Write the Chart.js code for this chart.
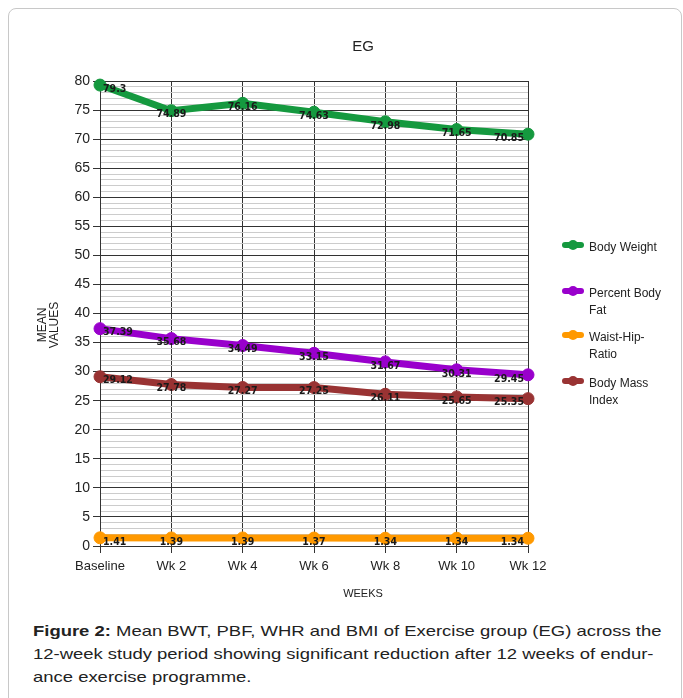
<!DOCTYPE html>
<html lang="en">
<head>
    <meta charset="UTF-8">
    <title>EG - Mean values over 12 weeks</title>
    <script src="https://cdn.jsdelivr.net/npm/chart.js"></script>
    <style>
        body {
            margin: 0;
            background-color: #fff;
            font-family: "Liberation Sans", Arial, sans-serif;
            overflow: hidden;
        }
        .frame {
            position: absolute;
            left: 8px;
            top: 8px;
            width: 672px;
            height: 720px;
            border: 1px solid #c8c8c8;
            border-radius: 8px;
        }
        #egChart {
            position: absolute;
            left: 0;
            top: 0;
        }
        .caption {
            position: absolute;
            left: 33px;
            top: 619px;
            margin: 0;
            font-size: 15px;
            line-height: 23px;
            color: #222;
            white-space: nowrap;
            transform: scaleX(1.23);
            transform-origin: left top;
        }
    </style>
</head>
<body>
    <div class="frame"></div>
    <canvas id="egChart" width="683" height="610"></canvas>
    <p class="caption"><b>Figure 2:</b> Mean BWT, PBF, WHR and BMI of Exercise group (EG) across the<br>12-week study period showing significant reduction after 12 weeks of endur-<br>ance exercise programme.</p>

    <script>
        // Data
        const weeks = ['Baseline', 'Wk 2', 'Wk 4', 'Wk 6', 'Wk 8', 'Wk 10', 'Wk 12'];
        const bodyWeight = [79.3, 74.89, 76.16, 74.63, 72.98, 71.65, 70.85];
        const percentBodyFat = [37.39, 35.68, 34.49, 33.15, 31.67, 30.31, 29.45];
        const waistHipRatio = [1.41, 1.39, 1.39, 1.37, 1.34, 1.34, 1.34];
        const bodyMassIndex = [29.12, 27.78, 27.27, 27.25, 26.11, 25.65, 25.35];
        const seriesNames = ['Body Weight', 'Percent Body Fat', 'Waist-Hip-Ratio', 'Body Mass Index'];
        const legendLines = [['Body Weight'], ['Percent Body', 'Fat'], ['Waist-Hip-', 'Ratio'], ['Body Mass', 'Index']];
        const yMin = 0, yMax = 80, yMajorStep = 5;

        const colors = ['#15993f', '#9900cc', '#ff9900', '#993333'];
        const seriesValues = [bodyWeight, percentBodyFat, waistHipRatio, bodyMassIndex];

        const datasets = seriesValues.map((vals, i) => ({
            label: seriesNames[i],
            data: vals,
            borderColor: colors[i],
            backgroundColor: colors[i],
            borderWidth: 7,
            pointRadius: 6,
            pointBorderWidth: 1,
            pointHoverRadius: 6,
            tension: 0,
            clip: false
        }));

        // Value labels next to each point
        const valueLabelPlugin = {
            id: 'valueLabelPlugin',
            afterDatasetsDraw: (chart) => {
                const ctx = chart.ctx;
                ctx.save();
                ctx.font = 'bold 10.5px "DejaVu Sans Condensed", sans-serif';
                ctx.fillStyle = '#1a1a1a';
                ctx.textBaseline = 'middle';
                chart.data.datasets.forEach((ds, di) => {
                    const meta = chart.getDatasetMeta(di);
                    meta.data.forEach((pt, i) => {
                        let x = pt.x;
                        if (i === 0) { ctx.textAlign = 'left'; x += 3; }
                        else if (i === meta.data.length - 1) { ctx.textAlign = 'right'; x -= 4; }
                        else { ctx.textAlign = 'center'; }
                        ctx.fillText(String(ds.data[i]), x, pt.y + 4);
                    });
                });
                ctx.restore();
            }
        };

        // Title, x-axis caption, y-axis caption and the legend column on the right
        const decorPlugin = {
            id: 'decorPlugin',
            afterDraw: (chart) => {
                const ctx = chart.ctx;
                ctx.save();
                ctx.fillStyle = '#222';
                ctx.textAlign = 'center';
                ctx.textBaseline = 'middle';
                ctx.font = '15px "Liberation Sans", Arial, sans-serif';
                ctx.fillText('EG', 363, 47);
                ctx.font = '11px "Liberation Sans", Arial, sans-serif';
                ctx.fillText('WEEKS', 363, 594);

                // y-axis caption (rotated, two lines)
                ctx.save();
                ctx.translate(43, 325);
                ctx.rotate(-Math.PI / 2);
                ctx.font = '12px "Liberation Sans", Arial, sans-serif';
                ctx.fillText('MEAN', 0, 0);
                ctx.fillText('VALUES', 0, 12);
                ctx.restore();

                // legend
                const markerX = 573, textX = 589, lineH = 17;
                const itemY = [248, 294, 338, 384];
                ctx.font = '12px "Liberation Sans", Arial, sans-serif';
                ctx.textAlign = 'left';
                legendLines.forEach((lines, i) => {
                    const y = itemY[i];
                    ctx.strokeStyle = colors[i];
                    ctx.fillStyle = colors[i];
                    ctx.lineWidth = 6;
                    ctx.lineCap = 'round';
                    ctx.beginPath();
                    ctx.moveTo(markerX - 8, y - 3);
                    ctx.lineTo(markerX + 8, y - 3);
                    ctx.stroke();
                    ctx.beginPath();
                    ctx.arc(markerX, y - 3, 5, 0, Math.PI * 2);
                    ctx.fill();
                    ctx.fillStyle = '#222';
                    lines.forEach((t, k) => ctx.fillText(t, textX, y + k * lineH));
                });
                ctx.restore();
            }
        };

        const config = {
            type: 'line',
            data: { labels: weeks, datasets: datasets },
            options: {
                responsive: false,
                animation: false,
                layout: { padding: { top: 81, right: 155, bottom: 34, left: 0 } },
                plugins: {
                    legend: { display: false },
                    title: { display: false },
                    tooltip: { enabled: false }
                },
                scales: {
                    x: {
                        type: 'category',
                        offset: false,
                        afterFit: (scale) => { scale.height = 30; },
                        grid: {
                            color: '#333',
                            lineWidth: 1,
                            tickLength: 7,
                            tickColor: '#333'
                        },
                        border: { color: '#333' },
                        ticks: {
                            color: '#222',
                            padding: 6,
                            maxRotation: 0,
                            autoSkip: false,
                            font: { family: '"Liberation Sans", Arial, sans-serif', size: 13 }
                        }
                    },
                    y: {
                        min: yMin,
                        max: yMax,
                        afterFit: (scale) => { scale.width = 100; },
                        grid: {
                            color: (c) => (c.tick && c.tick.value % yMajorStep === 0) ? '#333' : '#cccccc',
                            tickColor: (c) => (c.tick && c.tick.value % yMajorStep === 0) ? '#333' : 'rgba(0,0,0,0)',
                            lineWidth: 1,
                            tickLength: 7
                        },
                        border: { color: '#333' },
                        ticks: {
                            stepSize: 1,
                            autoSkip: false,
                            padding: 3,
                            color: '#222',
                            font: { family: '"Liberation Sans", Arial, sans-serif', size: 14 },
                            callback: (v) => (v % yMajorStep === 0 ? String(v) : '')
                        },
                        title: { display: false }
                    }
                }
            },
            plugins: [valueLabelPlugin, decorPlugin]
        };

        const egChart = new Chart(document.getElementById('egChart'), config);
    </script>
</body>
</html>
